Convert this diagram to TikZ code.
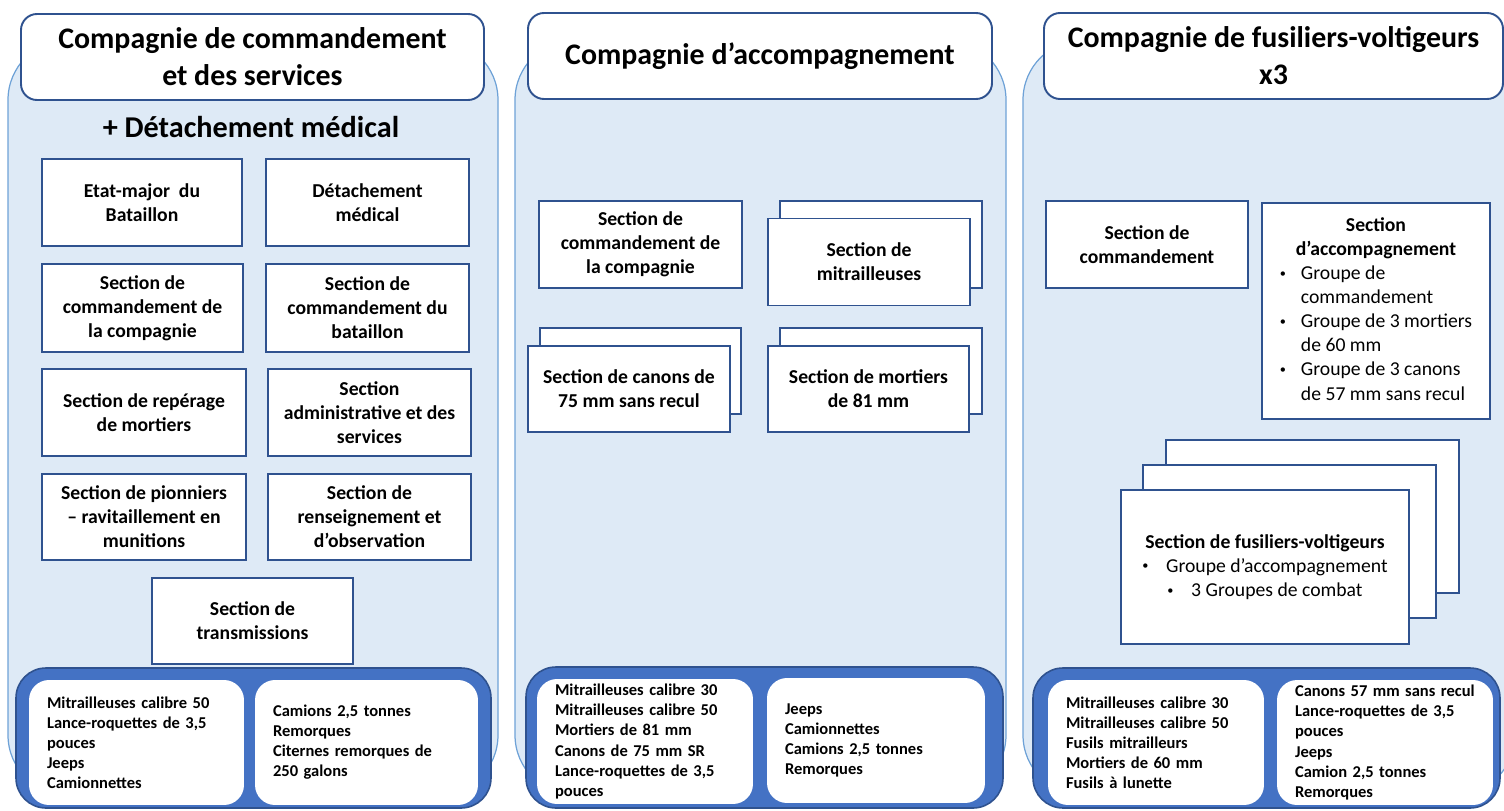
\documentclass[tikz,border=0pt]{standalone}
\usepackage{fontspec}
\setmainfont{Carlito}
\usetikzlibrary{positioning}
\definecolor{panfill}{RGB}{222,234,246}
\definecolor{panedge}{RGB}{110,162,215}
\definecolor{boxedge}{RGB}{47,82,143}
\definecolor{barfill}{RGB}{68,114,196}
\newcommand{\ttlfont}{\fontsize{17}{21}\selectfont\bfseries}
\newcommand{\secfont}{\fontsize{11.2}{13.7}\selectfont\bfseries}
\newcommand{\eqfont}{\fontsize{9.4}{11.4}\selectfont\bfseries}
\newcommand{\blt}{\raisebox{0.25ex}{\fontsize{7}{7}\selectfont\textbullet}}
\tikzset{
  wh/.style 2 args={minimum width=#1*0.02cm, minimum height=#2*0.02cm},
  pan/.style={draw=panedge, fill=panfill, line width=0.7pt, rounded corners=1.2cm, inner sep=0pt},
  ttlbox/.style={draw=boxedge, fill=white, line width=1.1pt, rounded corners=0.32cm,
    font=\ttlfont, align=center, inner sep=0pt},
  sec/.style={draw=boxedge, fill=white, line width=1.1pt, font=\secfont, align=center, inner sep=0pt},
  bar/.style={draw=boxedge, fill=barfill, line width=0.9pt, rounded corners=0.6cm, inner sep=0pt},
  eq/.style={fill=white, rounded corners=0.4cm, font=\eqfont, align=left, inner xsep=0.36cm,
    inner ysep=0pt, text width=#1, minimum height=2.5cm},
}
\begin{document}
\begin{tikzpicture}[x=0.02cm, y=-0.02cm]
\useasboundingbox (0,0) rectangle (1504,811);
% panels
\node[pan, wh={490}{755}] (pan1) at (253,417.5) {};
\node[pan, wh={491}{755}] (pan2) at (760.5,417.5) {};
\node[pan, wh={492}{755}] (pan3) at (1269,417.5) {};
\node[ttlbox, wh={463}{86}] (ttl1) at (252.5,57) {Compagnie de commandement\\et des services};
\node[ttlbox, wh={464}{86}] (ttl2) at (760,56) {Compagnie d’accompagnement};
\node[ttlbox, wh={459}{86}] (ttl3) at (1273.5,56) {Compagnie de fusiliers-voltigeurs\\x3};

% compagnie de commandement et des services
\node[font=\fontsize{17.2}{21}\selectfont\bfseries] (dmlbl) at (251,127) {+ Détachement médical};
\node[sec, wh={200}{87}] (emb) at (142,202.5) {Etat-major~ du\\Bataillon};
\node[sec, wh={203}{87}] (dmed) at (367.5,202.5) {Détachement\\médical};
\node[sec, wh={201}{88}] (scc1) at (142.5,308) {Section de\\commandement de\\la compagnie};
\node[sec, wh={203}{88}] (scb) at (367.5,308) {Section de\\commandement du\\bataillon};
\node[sec, wh={204}{87}] (srm) at (144,412.5) {Section de repérage\\de mortiers};
\node[sec, wh={203}{87}] (sas) at (369.5,412.5) {Section\\administrative et des\\services};
\node[sec, wh={204}{86}] (spr) at (144,517) {Section de pionniers\\– ravitaillement en\\munitions};
\node[sec, wh={203}{86}] (sro) at (369.5,517) {Section de\\renseignement et\\d’observation};
\node[sec, wh={201}{86}] (str) at (252.5,621) {Section de\\transmissions};

% compagnie d'accompagnement
\node[sec, wh={203}{87}] (scc2) at (640.5,244.5) {Section de\\commandement de\\la compagnie};
\node[sec, wh={202}{87}] (mitB) at (881,244.5) {};
\node[sec, wh={202}{87}] (mit) at (869,262) {Section de\\mitrailleuses};
\node[sec, wh={201}{86}] (canB) at (640.5,371) {};
\node[sec, wh={202}{86}] (can) at (629,389) {Section de canons de\\75 mm sans recul};
\node[sec, wh={202}{86}] (morB) at (881,371) {};
\node[sec, wh={201}{86}] (mor) at (868.5,389) {Section de mortiers\\de 81 mm};

% compagnie de fusiliers-voltigeurs
\node[sec, wh={202}{87}] (sc3) at (1147,244.5) {Section de\\commandement};
\node[sec, wh={228}{216}, font=\fontsize{11.2}{13.7}\selectfont] (sacc3) at (1376,311) {%
  \begin{tabular}{@{}l@{\hspace{8.5pt}}l@{}}
  \multicolumn{2}{c}{\bfseries Section}\\
  \multicolumn{2}{c}{\bfseries d’accompagnement}\\
  \blt & Groupe de\\
       & commandement\\
  \blt & Groupe de 3 mortiers\\
       & de 60 mm\\
  \blt & Groupe de 3 canons\\
       & de 57 mm sans recul
  \end{tabular}};
\node[sec, wh={293}{153}] (fusB) at (1312.5,516.5) {};
\node[sec, wh={293}{153}] (fusM) at (1289.5,541.5) {};
\node[sec, wh={288}{154}, font=\fontsize{11.2}{13.7}\selectfont] (fus) at (1265,567) {%
  \textbf{Section de fusiliers-voltigeurs}\\
  \blt\hspace{10pt}Groupe d’accompagnement\\
  \blt\hspace{10pt}3 Groupes de combat};

% dotations
\node[bar, wh={475}{140}] (bar1) at (253.5,738) {};
\node[eq=3.58cm] (eq1a) at (136.5,742.5) {Mitrailleuses calibre 50\\Lance-roquettes de 3,5\\pouces\\Jeeps\\Camionnettes};
\node[eq=3.74cm] (eq1b) at (366.5,742.5) {Camions 2,5 tonnes\\Remorques\\Citernes remorques de\\250 galons};
\node[bar, wh={477}{141}] (bar2) at (764.5,737.5) {};
\node[eq=3.60cm] (eq2a) at (645,741.5) {Mitrailleuses calibre 30\\Mitrailleuses calibre 50\\Mortiers de 81 mm\\Canons de 75 mm SR\\Lance-roquettes de 3,5\\pouces};
\node[eq=3.64cm] (eq2b) at (876,740.5) {Jeeps\\Camionnettes\\Camions 2,5 tonnes\\Remorques};
\node[bar, wh={467}{140}] (bar3) at (1266.5,738) {};
\node[eq=3.60cm] (eq3a) at (1156,742.5) {Mitrailleuses calibre 30\\Mitrailleuses calibre 50\\Fusils mitrailleurs\\Mortiers de 60 mm\\Fusils à lunette};
\node[eq=3.60cm] (eq3b) at (1385,742.5) {Canons 57 mm sans recul\\Lance-roquettes de 3,5\\pouces\\Jeeps\\Camion 2,5 tonnes\\Remorques};
\end{tikzpicture}
\end{document}
